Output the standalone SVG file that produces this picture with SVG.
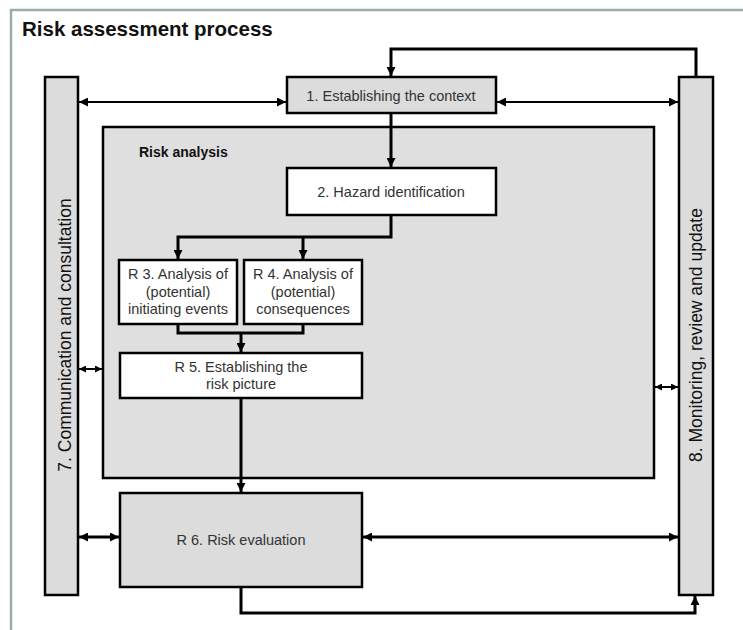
<svg xmlns="http://www.w3.org/2000/svg" width="743" height="630" viewBox="0 0 743 630">
<defs>
<marker id="ah" viewBox="0 0 10 10" refX="10" refY="5" markerWidth="9" markerHeight="9" markerUnits="userSpaceOnUse" orient="auto-start-reverse"><path d="M0,0 L10,5 L0,10 z" fill="#000"/></marker>
<marker id="ahs" viewBox="0 0 10 10" refX="10" refY="5" markerWidth="7" markerHeight="7" markerUnits="userSpaceOnUse" orient="auto-start-reverse"><path d="M0,0 L10,5 L0,10 z" fill="#000"/></marker>
<style>
.box{stroke:#000;stroke-width:2.5}
.g{fill:#dcdcdc}
.w{fill:#fff}
.t{font-family:"Liberation Sans",Arial,sans-serif;font-size:14.5px;fill:#333;text-anchor:middle}
.bt{font-family:"Liberation Sans",Arial,sans-serif;font-size:17.5px;fill:#111;text-anchor:middle}
.c{fill:none;stroke:#000;stroke-width:3}
.c2{fill:none;stroke:#000;stroke-width:2}
</style>
</defs>
<rect width="743" height="630" fill="#fff"/>
<path d="M11,630 V10 H743" fill="none" stroke="#9aacac" stroke-width="2.5"/>
<text x="22" y="36" font-family="Liberation Sans,Arial,sans-serif" font-size="20.5" font-weight="bold" fill="#111">Risk assessment process</text>

<g id="risk-analysis"><rect class="box" x="103" y="127" width="551" height="351" fill="#dfdfdf"/>
<text x="139" y="157" font-family="Liberation Sans,Arial,sans-serif" font-size="14" font-weight="bold" fill="#111">Risk analysis</text></g>

<g id="bar7"><rect class="box g" x="45" y="77" width="33" height="518"/>
<text class="bt" transform="translate(71,335) rotate(-90)">7. Communication and consultation</text></g>

<g id="bar8"><rect class="box g" x="679" y="77" width="34" height="518"/>
<text class="bt" transform="translate(702,335) rotate(-90)">8. Monitoring, review and update</text></g>

<g id="n1"><rect class="box g" x="287" y="77" width="209" height="36"/>
<text class="t" x="391" y="101">1. Establishing the context</text></g>

<g id="n2"><rect class="box w" x="287" y="168" width="209" height="47"/>
<text class="t" x="391" y="197">2. Hazard identification</text></g>

<g id="n3"><rect class="box w" x="119" y="260" width="118" height="64"/>
<text class="t" x="178" y="279">R 3. Analysis of</text>
<text class="t" x="178" y="297">(potential)</text>
<text class="t" x="178" y="314">initiating events</text></g>

<g id="n4"><rect class="box w" x="244" y="260" width="118" height="64"/>
<text class="t" x="303" y="279">R 4. Analysis of</text>
<text class="t" x="303" y="297">(potential)</text>
<text class="t" x="303" y="314">consequences</text></g>

<g id="n5"><rect class="box w" x="120" y="353" width="242" height="45"/>
<text class="t" x="241" y="372">R 5. Establishing the</text>
<text class="t" x="241" y="389">risk picture</text></g>

<g id="n6"><rect class="box g" x="120" y="493" width="242" height="94"/>
<text class="t" x="241" y="545">R 6. Risk evaluation</text></g>

<g id="connectors">
<path class="c" d="M696,77 V49 H391 V76" marker-end="url(#ah)"/>
<path class="c" d="M391,114 V167" marker-end="url(#ah)"/>
<path class="c2" d="M79,102 H286" marker-start="url(#ah)" marker-end="url(#ah)"/>
<path class="c2" d="M497,102 H678" marker-start="url(#ah)" marker-end="url(#ah)"/>
<path class="c" d="M391,215 V237 H178 V259" marker-end="url(#ah)"/>
<path class="c" d="M303,237 V259" marker-end="url(#ah)"/>
<path class="c" d="M178,324 V333 H303 V324"/>
<path class="c" d="M241,333 V352" marker-end="url(#ah)"/>
<path class="c" d="M241,398 V492" marker-end="url(#ah)"/>
<path class="c2" d="M79,369 H102" marker-start="url(#ahs)" marker-end="url(#ahs)"/>
<path class="c" d="M79,537 H119" marker-start="url(#ah)" marker-end="url(#ah)"/>
<path class="c" d="M363,537 H678" marker-start="url(#ah)" marker-end="url(#ah)"/>
<path class="c2" d="M655,387 H678" marker-start="url(#ahs)" marker-end="url(#ahs)"/>
<path class="c" d="M241,587 V613 H695 V596" marker-end="url(#ah)"/>
</g>
</svg>
